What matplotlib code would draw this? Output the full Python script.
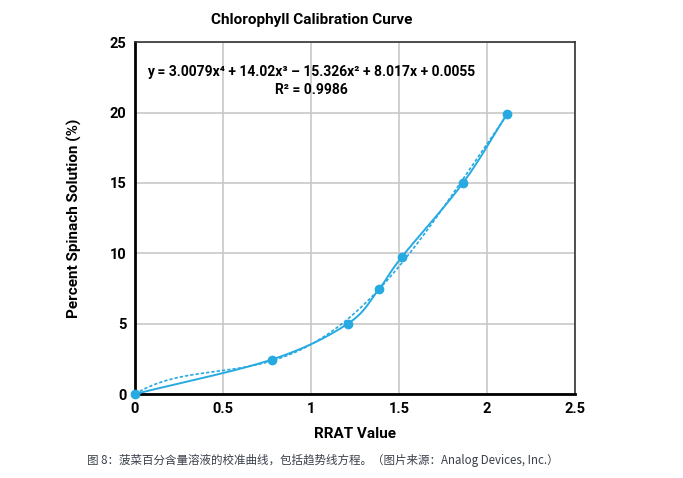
import matplotlib.pyplot as plt
import numpy as np

plt.rcParams['font.family'] = ['Roboto', 'Noto Sans CJK SC', 'DejaVu Sans']

# data
rrat = [0, 0.778, 1.21, 1.386, 1.517, 1.864, 2.114]
spinach = [0, 2.45, 5.0, 7.45, 9.75, 15.0, 19.9]

x_ticks = [0, 0.5, 1, 1.5, 2, 2.5]
x_tick_labels = ['0', '0.5', '1', '1.5', '2', '2.5']
y_ticks = [0, 5, 10, 15, 20, 25]

title = 'Chlorophyll Calibration Curve'
equation = 'y = 3.0079x⁴ + 14.02x³ – 15.326x² + 8.017x + 0.0055'
r_squared = 'R² = 0.9986'
caption = '图 8：菠菜百分含量溶液的校准曲线，包括趋势线方程。（图片来源：Analog Devices, Inc.）'

blue = '#27aae1'


def smooth_line(xs, ys, n=30):
    # catmull-rom style smoothing, like a spreadsheet "smoothed line"
    xs = np.asarray(xs, float)
    ys = np.asarray(ys, float)
    px = np.concatenate([[2 * xs[0] - xs[1]], xs, [2 * xs[-1] - xs[-2]]])
    py = np.concatenate([[2 * ys[0] - ys[1]], ys, [2 * ys[-1] - ys[-2]]])
    outx, outy = [], []
    for i in range(1, len(px) - 2):
        t = np.linspace(0, 1, n)
        for p, out in ((px, outx), (py, outy)):
            p0, p1, p2, p3 = p[i - 1], p[i], p[i + 1], p[i + 2]
            out.extend(0.5 * ((2 * p1) + (-p0 + p2) * t
                              + (2 * p0 - 5 * p1 + 4 * p2 - p3) * t ** 2
                              + (-p0 + 3 * p1 - 3 * p2 + p3) * t ** 3))
    return outx, outy


fig = plt.figure(figsize=(6.83, 4.78), dpi=100)
ax = fig.add_axes([0.1977, 0.1757, 0.644, 0.736])

# trend line (4th order polynomial fit)
coef = np.polyfit(rrat, spinach, 4)
xt = np.linspace(0, max(rrat), 200)
ax.plot(xt, np.polyval(coef, xt), color=blue, lw=1.2, ls=(0, (2, 1.2)), zorder=3)

sx, sy = smooth_line(rrat, spinach)
ax.plot(sx, sy, color=blue, lw=1.4, zorder=4)
ax.plot(rrat, spinach, 'o', color=blue, ms=6, zorder=5, clip_on=False)

ax.set_xlim(0, 2.5)
ax.set_ylim(0, 25)
ax.set_xticks(x_ticks)
ax.set_xticklabels(x_tick_labels)
ax.set_yticks(y_ticks)
ax.grid(True, color='#c8c8c8', lw=1.2)
ax.set_axisbelow(True)
ax.tick_params(length=0, pad=6, labelsize=10.5)
for lab in ax.get_xticklabels() + ax.get_yticklabels():
    lab.set_fontweight('bold')

for side in ['left', 'bottom']:
    ax.spines[side].set_linewidth(2)
    ax.spines[side].set_color('black')
for side in ['top', 'right']:
    ax.spines[side].set_linewidth(1.2)
    ax.spines[side].set_color('#333333')

ax.set_xlabel('RRAT Value', fontsize=11, fontweight='bold', labelpad=8)
ax.set_ylabel('Percent Spinach Solution (%)', fontsize=11, fontweight='bold', labelpad=20)
fig.text(0.457, 0.958, title, ha='center', va='center', fontsize=11, fontweight='bold')

ax.text(1.0, 22.87, equation, ha='center', va='center', fontsize=10, fontweight='bold')
ax.text(1.0, 21.6, r_squared, ha='center', va='center', fontsize=10, fontweight='bold')

fig.text(0.128, 0.036, caption, ha='left', va='center', fontsize=8.3,
         color='#3a3f4a', style='italic',
         family=['Noto Sans CJK SC', 'DejaVu Sans'])

fig.savefig('out.png', dpi=100)
